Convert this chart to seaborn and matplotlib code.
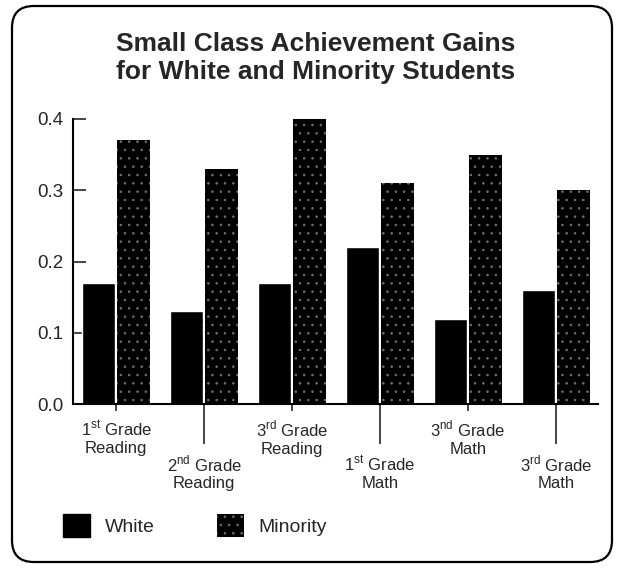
import pandas as pd
import numpy as np
import matplotlib
matplotlib.use("Agg")
import matplotlib.pyplot as plt
from matplotlib.patches import Patch, FancyBboxPatch
import seaborn as sns

grades = ["1st Grade Reading", "2nd Grade Reading", "3rd Grade Reading",
          "1st Grade Math", "3nd Grade Math", "3rd Grade Math"]
tick_labels = [r"1$^{\mathrm{st}}$ Grade" + "\nReading",
               r"2$^{\mathrm{nd}}$ Grade" + "\nReading",
               r"3$^{\mathrm{rd}}$ Grade" + "\nReading",
               r"1$^{\mathrm{st}}$ Grade" + "\nMath",
               r"3$^{\mathrm{nd}}$ Grade" + "\nMath",
               r"3$^{\mathrm{rd}}$ Grade" + "\nMath"]
white = [0.17, 0.13, 0.17, 0.22, 0.12, 0.16]
minority = [0.37, 0.33, 0.40, 0.31, 0.35, 0.30]
y_ticks = [0.0, 0.1, 0.2, 0.3, 0.4]

sns.set_style("white")
plt.rcParams["font.family"] = ["Liberation Sans", "DejaVu Sans"]
plt.rcParams["mathtext.fontset"] = "custom"
plt.rcParams["mathtext.rm"] = "Liberation Sans"
plt.rcParams["hatch.linewidth"] = 0.6

speckle = "#707070"

df = pd.DataFrame({
    "grade": grades * 2,
    "gain": white + minority,
    "group": ["White"] * len(grades) + ["Minority"] * len(grades),
})

fig = plt.figure(figsize=(6.23, 5.68), dpi=100)
ax = fig.add_axes([0.1172, 0.2887, 0.8428, 0.5018])

sns.barplot(data=df, x="grade", y="gain", hue="group", palette=["black", "black"],
            saturation=1, width=0.8, gap=0.05, errorbar=None, legend=False, ax=ax)

# speckled look for the minority bars
for bar in ax.containers[1]:
    bar.set_hatch("..")
    bar.set_edgecolor(speckle)
    bar.set_linewidth(0)
    bar.set_clip_on(False)

ax.set_xlim(-0.49, 5.48)
ax.set_ylim(0, 0.4)
ax.set_yticks(y_ticks, labels=[f"{v:.1f}" for v in y_ticks], fontsize=13.5)
ax.tick_params(axis="y", direction="in", length=9, width=1.2, pad=7, left=True)

ax.set_xticks([0, 2, 4], labels=tick_labels[0::2])
ax.set_xticks([1, 3, 5], labels=tick_labels[1::2], minor=True)
ax.tick_params(axis="x", which="major", direction="out", length=5, width=1.2,
               pad=6, labelsize=12, bottom=True)
ax.tick_params(axis="x", which="minor", direction="out", length=29, width=1.2,
               pad=7, labelsize=12, bottom=True)
for lab in ax.get_xticklabels(minor=False) + ax.get_xticklabels(minor=True):
    lab.set_linespacing(1.15)

ax.set_xlabel("")
ax.set_ylabel("")
sns.despine(ax=ax)
for side in ["left", "bottom"]:
    ax.spines[side].set_color("black")
    ax.spines[side].set_linewidth(1.5)

fig.text(316 / 623, 1 - 32 / 568, "Small Class Achievement Gains\nfor White and Minority Students",
         ha="center", va="top", fontsize=19, fontweight="bold", linespacing=1.2)

handles = [Patch(facecolor="black", edgecolor="black", label="White"),
           Patch(facecolor="black", edgecolor=speckle, hatch="..", lw=0, label="Minority")]
fig.legend(handles=handles, loc="upper left", bbox_to_anchor=(53 / 623, 1 - 504 / 568),
           ncol=2, frameon=False, fontsize=14, handlelength=1.4, handleheight=1.45,
           handletextpad=0.75, columnspacing=3.2, borderpad=0)

border = FancyBboxPatch((12 / 623, 6 / 568), 600 / 623, 556 / 568,
                        boxstyle="round,pad=0,rounding_size=0.035",
                        mutation_aspect=623 / 568, transform=fig.transFigure,
                        fill=False, edgecolor="black", linewidth=1.6)
fig.add_artist(border)

fig.savefig("out.png", dpi=100)
